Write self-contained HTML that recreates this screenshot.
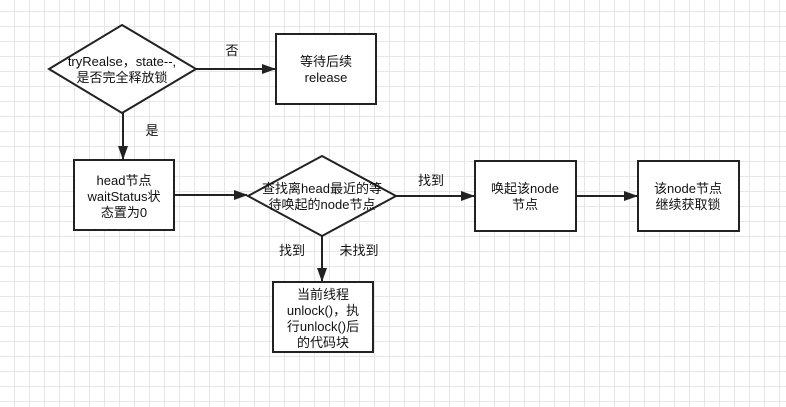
<!DOCTYPE html>
<html><head><meta charset="utf-8"><style>
html,body{margin:0;padding:0;}
body{width:786px;height:407px;overflow:hidden;background:#fff;
background-image:linear-gradient(to right,#e6e6e6 1px,transparent 1px),linear-gradient(to bottom,#e6e6e6 1px,transparent 1px);
background-size:15px 15px;background-position:14px 11px;}
svg text{font-family:"Liberation Sans","Noto Sans CJK SC",sans-serif;font-size:13px;fill:#111;text-anchor:middle;}
</style></head><body>
<svg width="786" height="407" xmlns="http://www.w3.org/2000/svg" style="position:absolute;left:0;top:0">
<defs><marker id="a" markerWidth="14" markerHeight="10" refX="13" refY="5" orient="auto" markerUnits="userSpaceOnUse"><path d="M0,0 L14,5 L0,10 Z" fill="#222"/></marker></defs>
<g stroke="#222" stroke-width="2" fill="#fff">
<polygon points="122,25 196,69 122,113 49,69"/>
<rect x="276" y="34" width="100" height="70"/>
<rect x="74" y="160" width="100" height="70"/>
<polygon points="322,156 396,196 322,236 248,196"/>
<rect x="475" y="161" width="101" height="70"/>
<rect x="638" y="161" width="101" height="70"/>
<rect x="273" y="282" width="100" height="70"/>
</g>
<g stroke="#222" stroke-width="2" fill="none">
<line x1="196" y1="69" x2="275" y2="69" marker-end="url(#a)"/>
<line x1="123" y1="113" x2="123" y2="159" marker-end="url(#a)"/>
<line x1="174" y1="195" x2="247" y2="195" marker-end="url(#a)"/>
<line x1="396" y1="196" x2="474" y2="196" marker-end="url(#a)"/>
<line x1="576" y1="196" x2="637" y2="196" marker-end="url(#a)"/>
<line x1="322" y1="236" x2="322" y2="281" marker-end="url(#a)"/>
</g>
<text x="122" y="66">tryRealse，state--,</text>
<text x="122" y="82">是否完全释放锁</text>
<text x="326" y="66">等待后续</text>
<text x="326" y="82">release</text>
<text x="124" y="185">head节点</text>
<text x="124" y="201">waitStatus状</text>
<text x="124" y="217">态置为0</text>
<text x="322" y="193">查找离head最近的等</text>
<text x="322" y="209">待唤起的node节点</text>
<text x="525" y="193">唤起该node</text>
<text x="525" y="209">节点</text>
<text x="688" y="193">该node节点</text>
<text x="688" y="209">继续获取锁</text>
<text x="323" y="299">当前线程</text>
<text x="323" y="315">unlock()，执</text>
<text x="323" y="331">行unlock()后</text>
<text x="323" y="347">的代码块</text>
<text x="232" y="55">否</text>
<text x="152" y="135">是</text>
<text x="431" y="185">找到</text>
<text x="292" y="255">找到</text>
<text x="359" y="255">未找到</text>
</svg>
</body></html>
